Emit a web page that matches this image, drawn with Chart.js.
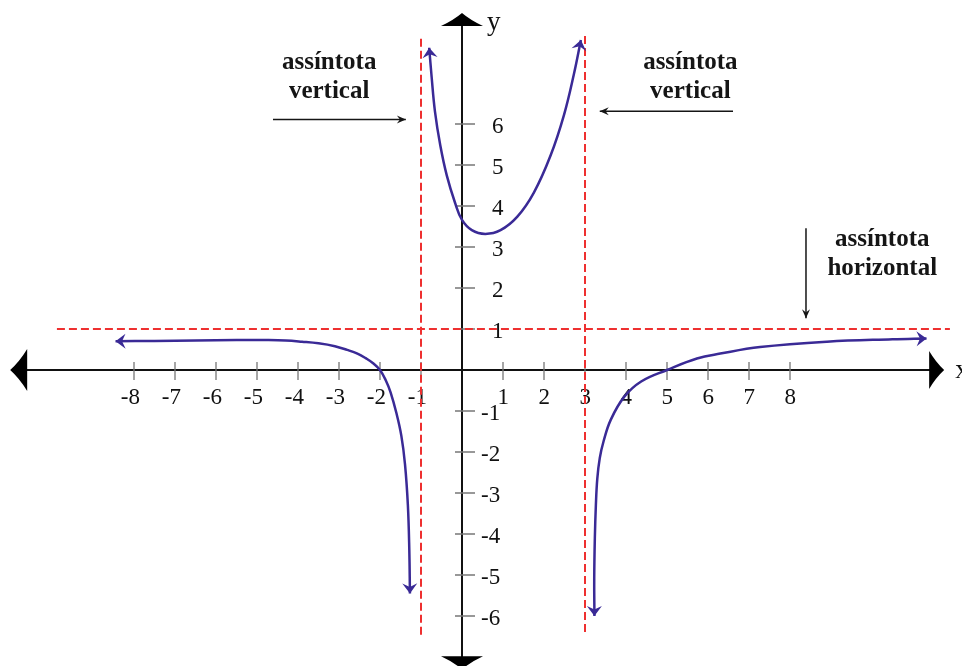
<!DOCTYPE html>
<html lang="pt">
<head>
<meta charset="utf-8">
<title>Assíntotas</title>
<script src="https://cdn.jsdelivr.net/npm/chart.js@4.4.1/dist/chart.umd.min.js"></script>
<style>
  html, body { margin: 0; padding: 0; background: #fff; }
  #grafico { display: block; }
</style>
</head>
<body>
<canvas id="grafico" width="962" height="666"></canvas>
<script>
// ramos da curva
const ramoEsqX = [-8.45, -7.5, -6.5, -5.5, -4.8, -4.3, -3.9, -3.5, -3.1, -2.8, -2.55, -2.35, -2.16, -2.0, -1.86, -1.74, -1.6, -1.48, -1.39, -1.32, -1.285, -1.27];
const ramoEsqY = [0.70, 0.71, 0.72, 0.73, 0.73, 0.72, 0.69, 0.65, 0.58, 0.49, 0.40, 0.29, 0.16, 0.0, -0.25, -0.55, -1.05, -1.6, -2.3, -3.3, -4.4, -5.45];

const ramoMeioX = [-0.80, -0.74, -0.66, -0.53, -0.37, -0.17, 0.0, 0.24, 0.57, 0.94, 1.35, 1.75, 2.16, 2.49, 2.73, 2.90];
const ramoMeioY = [7.86, 7.14, 6.31, 5.48, 4.74, 4.08, 3.66, 3.41, 3.32, 3.41, 3.74, 4.32, 5.23, 6.23, 7.22, 8.05];

const ramoDirX = [3.23, 3.225, 3.24, 3.265, 3.30, 3.36, 3.45, 3.63, 3.96, 4.37, 5.0, 5.73, 6.3, 7.27, 8.9, 10.5, 11.33];
const ramoDirY = [-6.0, -5.1, -4.1, -3.3, -2.65, -2.15, -1.75, -1.21, -0.65, -0.28, 0.0, 0.28, 0.40, 0.56, 0.69, 0.75, 0.77];

// assíntotas
const assintotasX = [-1, 3];
const vertTopo = [8.1, 8.17];
const vertBase = [-6.46, -6.39];
const assintotaY = 1;
const horizLimites = [-9.88, 11.9];

// marcas dos eixos
const xTicks = [-8, -7, -6, -5, -4, -3, -2, -1, 1, 2, 3, 4, 5, 6, 7, 8];
const yTicks = [-6, -5, -4, -3, -2, -1, 1, 2, 3, 4, 5, 6];

const COR_CURVA = '#3a2a96';
const COR_ASSINT = '#ee3030';

function pontos(xs, ys) {
    return xs.map((v, i) => ({ x: v, y: ys[i] }));
}

const datasets = [];

assintotasX.forEach((a, i) => {
    datasets.push({
        data: [{ x: a, y: vertBase[i] }, { x: a, y: vertTopo[i] }],
        borderColor: COR_ASSINT, borderWidth: 2, borderDash: [8, 4],
        showLine: true, pointRadius: 0
    });
});
datasets.push({
    data: [{ x: horizLimites[0], y: assintotaY }, { x: horizLimites[1], y: assintotaY }],
    borderColor: COR_ASSINT, borderWidth: 2, borderDash: [8, 4],
    showLine: true, pointRadius: 0
});

[[ramoEsqX, ramoEsqY], [ramoMeioX, ramoMeioY], [ramoDirX, ramoDirY]].forEach(([xs, ys]) => {
    datasets.push({
        data: pontos(xs, ys),
        borderColor: COR_CURVA, borderWidth: 2.5,
        showLine: true, pointRadius: 0,
        tension: 0.4,
        setas: true
    });
});

// ponta de seta grande (eixos)
function setaGrande(ctx, tx, ty, dx, dy, comp, meia) {
    const nx = -dy, ny = dx;
    const bx = tx - dx * comp, by = ty - dy * comp;
    ctx.beginPath();
    ctx.moveTo(tx, ty);
    ctx.quadraticCurveTo(tx - dx * comp * 0.55 + nx * meia * 0.4, ty - dy * comp * 0.55 + ny * meia * 0.4, bx + nx * meia, by + ny * meia);
    ctx.lineTo(bx - nx * meia, by - ny * meia);
    ctx.quadraticCurveTo(tx - dx * comp * 0.55 - nx * meia * 0.4, ty - dy * comp * 0.55 - ny * meia * 0.4, tx, ty);
    ctx.closePath();
    ctx.fill();
}

// ponta de seta pequena com entalhe
function setaPequena(ctx, tx, ty, dx, dy, comp, meia) {
    const nx = -dy, ny = dx;
    ctx.beginPath();
    ctx.moveTo(tx, ty);
    ctx.lineTo(tx - dx * comp + nx * meia, ty - dy * comp + ny * meia);
    ctx.lineTo(tx - dx * comp * 0.65, ty - dy * comp * 0.65);
    ctx.lineTo(tx - dx * comp - nx * meia, ty - dy * comp - ny * meia);
    ctx.closePath();
    ctx.fill();
}

const eixos = {
    id: 'eixos',
    beforeDatasetsDraw(chart) {
        const { ctx, scales: { x, y } } = chart;
        const x0 = x.getPixelForValue(0), y0 = y.getPixelForValue(0);
        const xEsq = x.getPixelForValue(-11.02), xDir = x.getPixelForValue(11.76);
        const yTopo = y.getPixelForValue(8.71), yBase = y.getPixelForValue(-7.3);

        ctx.save();
        ctx.strokeStyle = '#111';
        ctx.fillStyle = '#000';
        ctx.lineWidth = 2;
        ctx.beginPath();
        ctx.moveTo(xEsq + 4, y0); ctx.lineTo(xDir - 4, y0);
        ctx.moveTo(x0, yTopo + 4); ctx.lineTo(x0, yBase);
        ctx.stroke();

        setaGrande(ctx, xEsq, y0, -1, 0, 17, 21);
        setaGrande(ctx, xDir, y0, 1, 0, 15, 19);
        setaGrande(ctx, x0, yTopo, 0, -1, 13, 21);
        setaGrande(ctx, x0, yBase, 0, 1, 13, 21);

        // marcas
        ctx.strokeStyle = '#777';
        ctx.lineWidth = 1.3;
        ctx.beginPath();
        xTicks.forEach(t => {
            const px = x.getPixelForValue(t);
            ctx.moveTo(px, y0 - 8); ctx.lineTo(px, y0 + 10);
        });
        yTicks.forEach(t => {
            const py = y.getPixelForValue(t);
            ctx.moveTo(x0 - 7, py); ctx.lineTo(x0 + 13, py);
        });
        ctx.stroke();

        // rótulos
        ctx.fillStyle = '#111';
        ctx.font = '23px "Liberation Serif", serif';
        ctx.textBaseline = 'middle';
        ctx.textAlign = 'right';
        xTicks.forEach(t => {
            ctx.fillText(String(t), x.getPixelForValue(t) + 6, y0 + 28);
        });
        ctx.textAlign = 'left';
        yTicks.forEach(t => {
            ctx.fillText(String(t), x0 + (t > 0 ? 30 : 19), y.getPixelForValue(t) + 3);
        });

        ctx.font = '27px "Liberation Serif", serif';
        ctx.fillText('y', x0 + 25, y.getPixelForValue(8.47));
        ctx.fillText('x', x.getPixelForValue(12.03), y0 + 1);
        ctx.restore();
    },
    afterDatasetsDraw(chart) {
        const { ctx } = chart;
        ctx.save();
        ctx.fillStyle = COR_CURVA;
        chart.data.datasets.forEach((ds, i) => {
            if (!ds.setas) return;
            const pts = chart.getDatasetMeta(i).data;
            const n = pts.length;
            [[pts[0], pts[1]], [pts[n - 1], pts[n - 2]]].forEach(([a, b]) => {
                let dx = a.x - b.x, dy = a.y - b.y;
                const l = Math.hypot(dx, dy);
                dx /= l; dy /= l;
                setaPequena(ctx, a.x, a.y, dx, dy, 10, 7.5);
            });
        });
        ctx.restore();
    }
};

// anotações (em unidades do gráfico)
const notas = [
    { linhas: ['assíntota', 'vertical'], x: -3.24, y: [7.49, 6.78], seta: [[-4.61, 6.11], [-1.37, 6.11]] },
    { linhas: ['assíntota', 'vertical'], x: 5.57, y: [7.49, 6.78], seta: [[6.61, 6.31], [3.36, 6.31]] },
    { linhas: ['assíntota', 'horizontal'], x: 10.25, y: [3.17, 2.48], seta: [[8.39, 3.46], [8.39, 1.26]] }
];

const anotacoes = {
    id: 'anotacoes',
    afterDraw(chart) {
        const { ctx, scales: { x, y } } = chart;
        ctx.save();
        ctx.fillStyle = '#151515';
        ctx.strokeStyle = '#151515';
        ctx.font = 'bold 25px "Liberation Serif", serif';
        ctx.textAlign = 'center';
        ctx.textBaseline = 'middle';
        notas.forEach(n => {
            n.linhas.forEach((t, i) => ctx.fillText(t, x.getPixelForValue(n.x), y.getPixelForValue(n.y[i])));
            const [p, q] = n.seta;
            const ax = x.getPixelForValue(p[0]), ay = y.getPixelForValue(p[1]);
            const bx = x.getPixelForValue(q[0]), by = y.getPixelForValue(q[1]);
            ctx.lineWidth = 1.5;
            ctx.beginPath();
            ctx.moveTo(ax, ay); ctx.lineTo(bx, by);
            ctx.stroke();
            let dx = bx - ax, dy = by - ay;
            const l = Math.hypot(dx, dy);
            setaPequena(ctx, bx, by, dx / l, dy / l, 9, 4);
        });
        ctx.restore();
    }
};

new Chart(document.getElementById('grafico'), {
    type: 'scatter',
    data: { datasets },
    options: {
        responsive: false,
        animation: false,
        events: [],
        layout: { padding: 0 },
        scales: {
            x: { type: 'linear', min: -462 / 41, max: 500 / 41, display: false },
            y: { type: 'linear', min: -296 / 41, max: 370 / 41, display: false }
        },
        plugins: { legend: { display: false }, tooltip: { enabled: false } }
    },
    plugins: [eixos, anotacoes]
});
</script>
</body>
</html>
